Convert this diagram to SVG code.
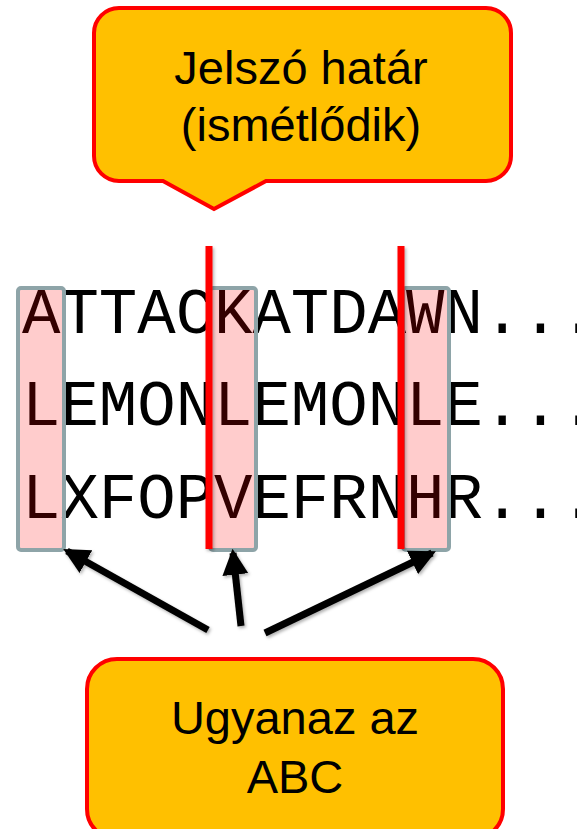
<svg xmlns="http://www.w3.org/2000/svg" width="577" height="829" viewBox="0 0 577 829">
  <style>
    .callout { fill: #FFC000; stroke: #FF0000; stroke-width: 4; stroke-linejoin: miter; }
    .label { font-family: "Liberation Sans", Arial, sans-serif; font-size: 47px; fill: #000; text-anchor: middle; }
    .mono { font-family: "Courier New", "Liberation Mono", monospace; font-size: 64px; fill: #000; }
    .col { fill: #FF0000; fill-opacity: 0.2; stroke: #8EA4A8; stroke-width: 4; }
    .boundary { stroke: #FF0000; stroke-width: 7; }
    .arrow { stroke: #000; stroke-width: 7; fill: none; marker-end: url(#head); }
  </style>
  <defs>
    <marker id="head" markerUnits="userSpaceOnUse" markerWidth="26" markerHeight="26" viewBox="0 0 24 24" refX="20" refY="12" orient="auto">
      <path d="M0,0 L24,12 L0,24 Z" fill="#000"/>
    </marker>
    <filter id="shadow" x="-20%" y="-20%" width="140%" height="140%">
      <feDropShadow dx="1.5" dy="2" stdDeviation="1.5" flood-color="#000" flood-opacity="0.3"/>
    </filter>
  </defs>

  <g id="callout-top">
    <path class="callout" d="M119 8 H486 A25 25 0 0 1 511 33 V156 A25 25 0 0 1 486 181 H266 L214 209 L163 181 H119 A25 25 0 0 1 94 156 V33 A25 25 0 0 1 119 8 Z"/>
    <text class="label" x="301" y="84">Jelszó határ</text>
    <text class="label" x="301" y="141">(ismétlődik)</text>
  </g>

  <g id="text-rows">
    <text class="mono" x="22" y="333">ATTACKATDAWN...</text>
    <text class="mono" x="22" y="425">LEMONLEMONLE...</text>
    <text class="mono" x="22" y="518">LXFOPVEFRNHR...</text>
  </g>

  <g id="column-1">
    <rect class="col" x="18" y="288" width="46" height="262" rx="3"/>
  </g>
  <g id="column-2">
    <rect class="col" x="210" y="288" width="46" height="262" rx="3"/>
  </g>
  <g id="column-3">
    <rect class="col" x="403" y="288" width="46" height="262" rx="3"/>
  </g>

  <g id="boundaries" filter="url(#shadow)">
    <line class="boundary" x1="209" y1="246" x2="209" y2="549"/>
    <line class="boundary" x1="401" y1="246" x2="401" y2="549"/>
  </g>

  <g id="connectors" filter="url(#shadow)">
    <line class="arrow" x1="208" y1="630" x2="67" y2="551"/>
    <line class="arrow" x1="241" y1="626" x2="233" y2="553"/>
    <line class="arrow" x1="265" y1="633" x2="432" y2="553"/>
  </g>

  <g id="callout-bottom">
    <rect class="callout" x="87" y="659" width="416" height="180" rx="30"/>
    <text class="label" x="295" y="734">Ugyanaz az</text>
    <text class="label" x="295" y="793">ABC</text>
  </g>
</svg>
